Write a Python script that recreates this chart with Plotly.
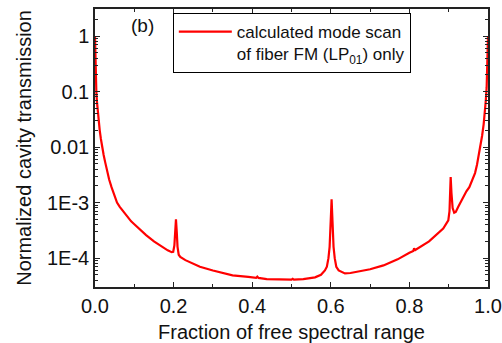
import plotly.graph_objects as go

# Fraction of free spectral range
frac = [0.000, 0.001, 0.002, 0.0034, 0.005, 0.007, 0.009, 0.012, 0.015, 0.018,
        0.022, 0.026, 0.030, 0.036, 0.042, 0.048, 0.056, 0.063, 0.070, 0.078,
        0.085, 0.092, 0.098, 0.110, 0.130, 0.150, 0.170, 0.185, 0.195, 0.199,
        0.202, 0.204, 0.206, 0.208, 0.210, 0.213, 0.217, 0.230, 0.250, 0.267,
        0.300, 0.350, 0.390, 0.410, 0.413, 0.416, 0.437, 0.470, 0.500, 0.503,
        0.506, 0.530, 0.560, 0.575, 0.585, 0.590, 0.594, 0.597, 0.599, 0.601,
        0.602, 0.603, 0.605, 0.607, 0.610, 0.614, 0.620, 0.636, 0.650, 0.700,
        0.734, 0.770, 0.800, 0.810, 0.812, 0.815, 0.850, 0.886, 0.899, 0.902,
        0.904, 0.905, 0.907, 0.910, 0.914, 0.918, 0.924, 0.930, 0.937, 0.945,
        0.9525, 0.960, 0.967, 0.972, 0.976, 0.981, 0.985, 0.989, 0.992, 0.9945,
        0.9966, 0.998, 0.999, 1.000]

# Normalized cavity transmission
trans = [1.0, 0.35, 0.18, 0.1, 0.065, 0.042, 0.03, 0.02, 0.014, 0.01,
         0.0072, 0.0053, 0.0039, 0.0026, 0.0019, 0.0014, 0.001, 0.00084, 0.00072, 0.0006,
         0.00052, 0.00046, 0.00042, 0.00035, 0.00026, 0.0002, 0.00016, 0.000138, 0.000128, 0.00013,
         0.00017, 0.0003, 0.0005, 0.0003, 0.00016, 0.000115, 0.000105, 0.000092, 0.00008, 0.00007,
         0.00006, 0.000049, 0.000046, 0.000044, 0.0000465, 0.000044, 0.000042, 0.0000415, 0.000041, 0.0000425,
         0.000041, 0.000042, 0.000045, 0.00005, 0.00006, 0.00007, 0.0001, 0.00016, 0.00028, 0.00075,
         0.00115, 0.00075, 0.00028, 0.00016, 0.0001, 0.00007, 0.00006, 0.000053, 0.000054, 0.000063,
         0.000074, 0.000095, 0.000125, 0.000135, 0.00015, 0.00014, 0.0002, 0.00034, 0.00048, 0.0007,
         0.0018, 0.0029, 0.0015, 0.0008, 0.00066, 0.00068, 0.00083, 0.001, 0.0013, 0.0016,
         0.0019, 0.0025, 0.0034, 0.0048, 0.0068, 0.01, 0.016, 0.026, 0.042, 0.07,
         0.12, 0.22, 0.4, 1.0]

y_tickvals = [1e-4, 1e-3, 0.01, 0.1, 1]
y_ticktext = ["1E-4", "1E-3", "0.01", "0.1", "1"]
x_tickvals = [0.0, 0.2, 0.4, 0.6, 0.8, 1.0]
x_ticktext = ["0.0", "0.2", "0.4", "0.6", "0.8", "1.0"]

FONT = "Liberation Sans, Arial, sans-serif"
AX = "#222222"
TXT = "#111111"

fig = go.Figure()
fig.add_trace(go.Scatter(
    x=frac, y=trans, mode="lines",
    line=dict(color="#ff0000", width=2.2),
    name="calculated mode scan<br>of fiber FM (LP<sub>01</sub>) only",
))

fig.update_layout(
    width=502, height=343,
    margin=dict(l=95, r=14, t=9, b=56, autoexpand=False),
    paper_bgcolor="white", plot_bgcolor="white",
    font=dict(family=FONT, size=20, color=TXT),
    showlegend=True,
    legend=dict(
        x=0.198, y=0.985, xanchor="left", yanchor="top",
        bordercolor="black", borderwidth=1, bgcolor="white",
        font=dict(family=FONT, size=17, color=TXT),
        valign="top", tracegroupgap=0,
        itemwidth=53,
    ),
    annotations=[dict(
        text="(b)", x=0.12, y=0.94, xref="paper", yref="paper",
        xanchor="center", yanchor="middle", showarrow=False,
        font=dict(family=FONT, size=19, color=TXT),
    )],
)

fig.update_xaxes(
    range=[0, 1], tickvals=x_tickvals, ticktext=x_ticktext,
    ticks="inside", ticklen=5, tickwidth=1.2, tickcolor=AX,
    showline=True, linecolor=AX, linewidth=1.5, mirror="ticks",
    showgrid=False, zeroline=False, automargin=False,
    minor=dict(dtick=0.1, ticks="inside", ticklen=3, tickcolor=AX, showgrid=False),
    title=dict(text="Fraction of free spectral range", font=dict(size=20), standoff=10),
    tickfont=dict(size=20),
)
fig.update_yaxes(
    type="log", range=[-4.52, 0.487],
    tickvals=y_tickvals, ticktext=y_ticktext,
    ticks="inside", ticklen=5, tickwidth=1.2, tickcolor=AX,
    showline=True, linecolor=AX, linewidth=1.5, mirror="ticks",
    showgrid=False, zeroline=False, automargin=False,
    minor=dict(dtick="D1", ticks="inside", ticklen=3, tickcolor=AX, showgrid=False),
    title=dict(text="Normalized cavity transmission", font=dict(size=20), standoff=10),
    tickfont=dict(size=20),
)

fig.write_html("out.html")
